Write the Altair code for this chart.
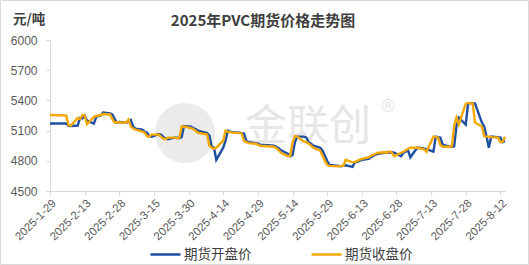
import altair as alt
import pandas as pd

# ---- data ----
months = ["01", "02", "03", "04", "05", "06", "07", "08"]
jan_days = [29]
feb_days = [5, 6, 7, 10, 11, 12, 13, 14, 17, 18, 19, 20, 21, 24, 25, 26, 27, 28]
mar_days = [3, 4, 5, 6, 7, 10, 11, 12, 13, 14, 17, 18, 19, 20, 21, 24, 25, 26, 27, 28, 31]
apr_days = [1, 2, 3, 7, 8, 9, 10, 11, 14, 15, 16, 17, 18, 21, 22, 23, 24, 25, 28, 29, 30]
may_days = [6, 7, 8, 9, 12, 13, 14, 15, 16, 19, 20, 21, 22, 23, 26, 27, 28, 29, 30]
jun_days = [3, 4, 5, 6, 9, 10, 11, 12, 13, 16, 17, 18, 19, 20, 23, 24, 25, 26, 27, 30]
jul_days = [1, 2, 3, 4, 7, 8, 9, 10, 11, 14, 15, 16, 17, 18, 21, 22, 23, 24, 25, 28, 29, 30, 31]
aug_days = [1, 4, 5, 6, 7, 8, 11, 12, 13, 14]

open_jan = [5170]
close_jan = [5255]
open_feb = [5170, 5150, 5145, 5150, 5225, 5220, 5250, 5200, 5170, 5235, 5245, 5250, 5280, 5270, 5260, 5215, 5180, 5185]
close_feb = [5250, 5155, 5150, 5225, 5215, 5255, 5250, 5165, 5235, 5245, 5250, 5255, 5265, 5260, 5215, 5180, 5185, 5180]
open_mar = [5180, 5185, 5205, 5140, 5120, 5110, 5090, 5080, 5045, 5040, 5065, 5060, 5040, 5020, 5015, 5030, 5030, 5025, 5035, 5145, 5140]
close_mar = [5180, 5210, 5140, 5120, 5110, 5090, 5080, 5045, 5040, 5060, 5060, 5040, 5020, 5015, 5030, 5030, 5025, 5030, 5140, 5140, 5125]
open_apr = [5125, 5115, 5100, 5075, 5050, 4945, 4930, 4810, 4930, 5000, 5100, 5090, 5085, 5080, 5075, 5070, 4995, 4985, 4975, 4970, 4960]
close_apr = [5115, 5100, 5080, 5060, 4950, 4930, 4920, 4930, 5000, 5100, 5090, 5085, 5080, 5075, 5070, 4995, 4985, 4975, 4970, 4960, 4950]
open_may = [4950, 4940, 4925, 4905, 4870, 4845, 4855, 4980, 5040, 5040, 5030, 4985, 4970, 4950, 4930, 4900, 4850, 4800, 4760]
close_may = [4940, 4925, 4905, 4880, 4845, 4850, 4980, 5045, 5040, 4990, 4985, 4970, 4950, 4930, 4900, 4850, 4800, 4760, 4750]
open_jun = [4750, 4745, 4750, 4755, 4740, 4785, 4790, 4800, 4810, 4820, 4835, 4850, 4860, 4870, 4880, 4885, 4880, 4885, 4880, 4845]
close_jun = [4745, 4750, 4750, 4810, 4785, 4790, 4800, 4810, 4820, 4835, 4850, 4860, 4870, 4880, 4885, 4880, 4895, 4880, 4845, 4880]
open_jul = [4880, 4890, 4905, 4835, 4930, 4930, 4925, 4920, 4915, 4890, 5040, 5035, 5030, 4960, 4940, 4940, 4945, 5150, 5230, 5160, 5365, 5375, 5370]
close_jul = [4890, 4905, 4920, 4930, 4930, 4925, 4920, 4915, 4890, 5040, 5035, 5030, 4960, 4940, 4940, 4945, 5150, 5230, 5160, 5365, 5375, 5370, 5370]
open_aug = [5370, 5180, 5140, 5045, 4930, 5040, 5035, 5030, 4985, 4995]
close_aug = [5180, 5140, 5045, 5040, 5040, 5035, 5030, 4985, 4990, 5040]

series_names = ["期货开盘价", "期货收盘价"]
tick_dates = ["2025-01-29", "2025-02-13", "2025-02-28", "2025-03-15", "2025-03-30",
              "2025-04-14", "2025-04-29", "2025-05-14", "2025-05-29", "2025-06-13",
              "2025-06-28", "2025-07-13", "2025-07-28", "2025-08-12"]
y_ticks = [4500, 4800, 5100, 5400, 5700, 6000]

# ---- build table ----
all_days = [jan_days, feb_days, mar_days, apr_days, may_days, jun_days, jul_days, aug_days]
dates = [f"2025-{m}-{d:02d}" for m, days in zip(months, all_days) for d in days]
opens = open_jan + open_feb + open_mar + open_apr + open_may + open_jun + open_jul + open_aug
closes = close_jan + close_feb + close_mar + close_apr + close_may + close_jun + close_jul + close_aug
n = len(dates)
df = pd.DataFrame({
    "date": dates * 2,
    "price": opens + closes,
    "series": [series_names[0]] * n + [series_names[1]] * n,
})


def dt(s):
    y, m, d = (int(v) for v in s.split("-"))
    return alt.DateTime(year=y, month=m, date=d, utc=True)


FONT = "Noto Sans CJK SC"
NUMFONT = "Liberation Sans"

lines = alt.Chart(df).mark_line(strokeWidth=2.4).encode(
    x=alt.X("date:T",
            scale=alt.Scale(type="utc", domain=[dt("2025-01-29"), dt("2025-08-14")]),
            axis=alt.Axis(values=[dt(s) for s in tick_dates],
                          labelExpr="utcFormat(datum.value, '%Y-%-m-%-d')",
                          labelAngle=-45, labelFontSize=11.5, labelFont=NUMFONT,
                          labelColor="#595959", labelPadding=2,
                          tickSize=4, tickColor="#d9d9d9", domainColor="#d9d9d9",
                          grid=False, title=None, labelOverlap=False)),
    y=alt.Y("price:Q",
            scale=alt.Scale(domain=[4500, 6000], nice=False, zero=False),
            axis=alt.Axis(values=y_ticks, format="d", labelFontSize=12, labelFont=NUMFONT,
                          labelColor="#595959", labelPadding=9,
                          tickSize=4, tickColor="#d9d9d9", domainColor="#d9d9d9",
                          grid=False, title=None)),
    color=alt.Color("series:N",
                    scale=alt.Scale(domain=series_names, range=["#1F4FA3", "#F5A800"]),
                    legend=alt.Legend(title=None, orient="none", direction="horizontal",
                                      legendX=99, legendY=198,
                                      symbolType="stroke", symbolSize=900,
                                      symbolStrokeWidth=2.5, labelFontSize=13.5,
                                      labelFont=FONT, labelColor="#404040",
                                      labelOffset=2, columnPadding=54, padding=0)),
)

wm = pd.DataFrame({"t": ["金联创"]})
logo = alt.Chart(wm).mark_point(filled=True, shape="circle", size=3600,
                                color="#ebebeb", opacity=1).encode(
    x=alt.value(135), y=alt.value(93))
wm_text = alt.Chart(wm).mark_text(fontSize=42, font=FONT, color="#e6e6e6").encode(
    text="t:N", x=alt.value(258), y=alt.value(87))
reg = alt.Chart(pd.DataFrame({"t": ["®"]})).mark_text(fontSize=18, font=NUMFONT, color="#e6e6e6").encode(
    text="t:N", x=alt.value(338), y=alt.value(67))

title = alt.Chart(pd.DataFrame({"t": ["2025年PVC期货价格走势图"]})).mark_text(
    fontSize=15, fontWeight="bold", font=FONT, color="#404040").encode(
    text="t:N", x=alt.value(213), y=alt.value(-19))
unit = alt.Chart(pd.DataFrame({"t": ["元/吨"]})).mark_text(
    fontSize=13.5, fontWeight="bold", font=FONT, color="#404040", align="left").encode(
    text="t:N", x=alt.value(-37), y=alt.value(-20))
border = alt.Chart(pd.DataFrame({"a": [0]})).mark_rect(
    fill="transparent", stroke="#d9d9d9", strokeWidth=1).encode(
    x=alt.value(-49.5), x2=alt.value(478.5), y=alt.value(-39.5), y2=alt.value(224.5))

chart = alt.layer(border, logo, wm_text, reg, lines, title, unit).properties(
    width=455, height=151,
    autosize=alt.AutoSizeParams(type="none"),
    padding={"left": 50, "top": 40, "right": 24, "bottom": 74},
    background="white",
).configure_view(strokeWidth=0)

chart.save("out.html", embed_options={"renderer": "svg", "actions": False})
